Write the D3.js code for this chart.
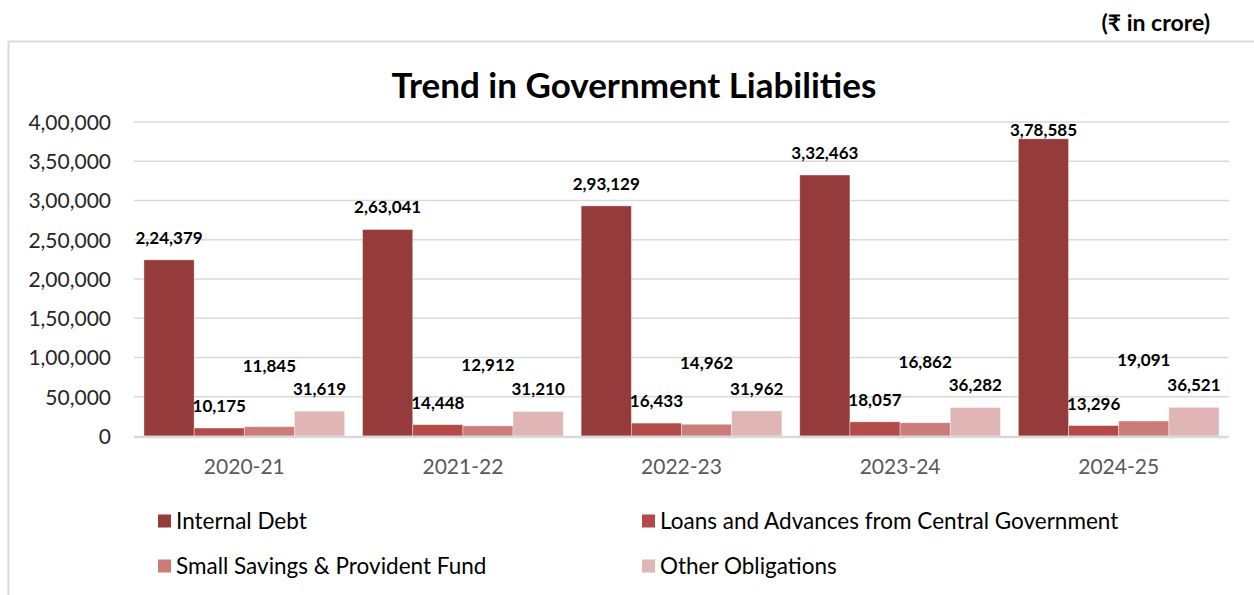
<!DOCTYPE html>
<html>
<head>
<meta charset="utf-8">
<script src="https://cdn.jsdelivr.net/npm/d3@7"></script>
<style>
  html, body { margin: 0; padding: 0; background: #fff; }
  svg { display: block; }
  text { font-family: Lato, "Noto Sans", sans-serif; }
</style>
</head>
<body>
<svg id="chart" width="1254" height="595"></svg>
<script>
// Liabilities by year (₹ in crore)
const years = ["2020-21", "2021-22", "2022-23", "2023-24", "2024-25"];
const seriesNames = [
  "Internal Debt",
  "Loans and Advances from Central Government",
  "Small Savings & Provident Fund",
  "Other Obligations"
];
const internalDebt = [224379, 263041, 293129, 332463, 378585];
const loansAdvances = [10175, 14448, 16433, 18057, 13296];
const smallSavings = [11845, 12912, 14962, 16862, 19091];
const otherObligations = [31619, 31210, 31962, 36282, 36521];
const yTicks = [0, 50000, 100000, 150000, 200000, 250000, 300000, 350000, 400000];

const seriesValues = [internalDebt, loansAdvances, smallSavings, otherObligations];
const colors = ["#953b3b", "#b34a48", "#cc7b7b", "#dfb5b5"];
// vertical gap between a bar top and its value label
const labelLift = [22, 22, 61, 22];

// Indian digit grouping: 3,78,585
function indianFormat(n) {
  const s = String(Math.round(n));
  if (s.length <= 3) return s;
  const last3 = s.slice(-3);
  let rest = s.slice(0, -3);
  const parts = [];
  while (rest.length > 2) { parts.unshift(rest.slice(-2)); rest = rest.slice(0, -2); }
  if (rest.length) parts.unshift(rest);
  return parts.join(",") + "," + last3;
}

const svg = d3.select("#chart");

// outer chart frame
svg.append("path")
  .attr("d", "M8.5,600 L8.5,41.5 L1260,41.5")
  .attr("fill", "none").attr("stroke", "#d9d9d9").attr("stroke-width", 2);

// unit note
svg.append("text")
  .attr("x", 1210).attr("y", 31)
  .attr("text-anchor", "end")
  .attr("font-size", 23).attr("font-weight", 700).attr("fill", "#000")
  .text("(₹ in crore)");

// title
svg.append("text")
  .attr("x", 634).attr("y", 98)
  .attr("text-anchor", "middle")
  .attr("font-size", 35).attr("font-weight", 700).attr("fill", "#000")
  .text("Trend in Government Liabilities");

const plotLeft = 135, plotRight = 1228, plotTop = 122, plotBottom = 436;

const x = d3.scaleBand().domain(years).range([plotLeft, plotRight])
  .paddingInner(0.082).paddingOuter(0.041);
const xs = d3.scaleBand().domain(d3.range(seriesNames.length)).range([0, x.bandwidth()]);
const y = d3.scaleLinear().domain([0, 400000]).range([plotBottom, plotTop]);

// gridlines
svg.append("g").selectAll("line")
  .data(yTicks.filter(t => t > 0))
  .join("line")
  .attr("x1", plotLeft - 1).attr("x2", plotRight + 1)
  .attr("y1", d => y(d)).attr("y2", d => y(d))
  .attr("stroke", "#d9d9d9").attr("stroke-width", 1.5);

// y axis labels
const yAxis = d3.axisLeft(y).tickValues(yTicks).tickFormat(indianFormat).tickSize(0).tickPadding(0);
const yG = svg.append("g").attr("transform", `translate(111,0)`).call(yAxis);
yG.select(".domain").remove();
yG.selectAll("text")
  .attr("font-family", "Lato, 'Noto Sans', sans-serif")
  .attr("font-size", 21).attr("fill", "#262626").attr("dy", "0.35em");

// bars
const groups = svg.append("g").selectAll("g")
  .data(years)
  .join("g")
  .attr("transform", d => `translate(${x(d)},0)`);

groups.selectAll("rect")
  .data((yr, i) => seriesValues.map((vals, s) => ({ s, v: vals[i] })))
  .join("rect")
  .attr("x", d => xs(d.s))
  .attr("width", xs.bandwidth())
  .attr("y", d => y(d.v))
  .attr("height", d => y(0) - y(d.v))
  .attr("fill", d => colors[d.s])
  .attr("stroke", "#ffffff").attr("stroke-opacity", 0.5).attr("stroke-width", 0.75);

// value labels
groups.selectAll("text.val")
  .data((yr, i) => seriesValues.map((vals, s) => ({ s, v: vals[i] })))
  .join("text")
  .attr("class", "val")
  .attr("x", d => xs(d.s) + xs.bandwidth() / 2)
  .attr("y", d => Math.max(y(d.v) - labelLift[d.s], plotTop + 8))
  .attr("dy", "0.35em")
  .attr("text-anchor", "middle")
  .attr("font-size", 17).attr("font-weight", 700).attr("fill", "#000")
  .text(d => indianFormat(d.v));

// baseline
svg.append("line")
  .attr("x1", plotLeft - 1).attr("x2", plotRight + 1)
  .attr("y1", y(0) + 1).attr("y2", y(0) + 1)
  .attr("stroke", "#d9d9d9").attr("stroke-width", 2.5);

// x axis labels
const xAxis = d3.axisBottom(x).tickSize(0).tickPadding(0);
const xG = svg.append("g").attr("transform", `translate(0,467)`).call(xAxis);
xG.select(".domain").remove();
xG.selectAll("text")
  .attr("font-family", "Lato, 'Noto Sans', sans-serif")
  .attr("font-size", 21).attr("fill", "#595959").attr("dy", "0.35em");

// legend
const legendPos = [[158, 521], [642, 521], [158, 566], [642, 566]];
const legend = svg.append("g").selectAll("g")
  .data(seriesNames)
  .join("g")
  .attr("transform", (d, i) => `translate(${legendPos[i][0]},${legendPos[i][1]})`);
legend.append("rect")
  .attr("x", 0).attr("y", -6.5).attr("width", 13).attr("height", 13)
  .attr("fill", (d, i) => colors[i]);
legend.append("text")
  .attr("x", 18).attr("y", 0).attr("dy", "0.35em")
  .attr("font-size", 22.5).attr("fill", "#000")
  .text(d => d);
</script>
</body>
</html>
